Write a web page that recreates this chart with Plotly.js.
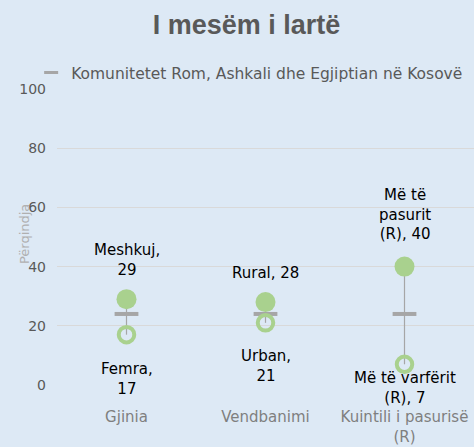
<!DOCTYPE html>
<html>
<head>
<meta charset="utf-8">
<script src="https://cdn.plot.ly/plotly-3.0.1.min.js"></script>
<style>html,body{margin:0;padding:0;background:#dde9f5;}#chart{width:474px;height:447px;}</style>
</head>
<body>
<div id="chart"></div>
<script>
// ---- data ----
const categories = ["Gjinia", "Vendbanimi", "Kuintili i pasurisë<br>(R)"];
const highValues = [29, 28, 40];
const lowValues = [17, 21, 7];
const avgValues = [24, 24, 24];
const highNames = ["Meshkuj,<br>", "Rural, ", "Më të<br>pasurit<br>(R), "];
const lowNames = ["Femra,<br>", "Urban,<br>", "Më të varfërit<br>(R), "];
const legendName = "Komunitetet Rom, Ashkali dhe Egjiptian në Kosovë";

// ---- styling ----
const green = "#a9d18e";
const grey = "#a6a6a6";
const fontFam = "DejaVu Sans, Verdana, sans-serif";
const highShift = [18, 18, 22];
const lowShift = [-23, -22, -3];

const rangeX = [], rangeY = [];
categories.forEach((c, i) => { rangeX.push(c, c, null); rangeY.push(lowValues[i], highValues[i], null); });

const traces = [
  {x: rangeX, y: rangeY, mode: "lines", line: {color: grey, width: 1.2}, showlegend: false, hoverinfo: "skip"},
  {x: categories, y: avgValues, mode: "markers", name: legendName, showlegend: false,
   marker: {symbol: "line-ew", size: 17, color: grey, line: {color: grey, width: 4}}},
  {x: categories, y: highValues, mode: "markers", showlegend: false,
   marker: {symbol: "circle", size: 20, color: green}},
  {x: categories, y: lowValues, mode: "markers", showlegend: false,
   marker: {symbol: "circle-open", size: 15.5, color: green, line: {color: green, width: 4}}},
  {x: [null], y: [null], mode: "markers", name: legendName, showlegend: true,
   marker: {symbol: "line-ew", size: 10, color: grey, line: {color: grey, width: 3}}}
];

const annotations = [];
categories.forEach((c, i) => {
  annotations.push({x: c, y: highValues[i], xref: "x", yref: "y", text: highNames[i] + highValues[i],
    showarrow: false, yanchor: "bottom", yshift: highShift[i], font: {size: 15, color: "#000", family: fontFam}});
  annotations.push({x: c, y: lowValues[i], xref: "x", yref: "y", text: lowNames[i] + lowValues[i],
    showarrow: false, yanchor: "top", yshift: lowShift[i], font: {size: 15, color: "#000", family: fontFam}});
});
annotations.push({xref: "paper", yref: "paper", x: -0.079, y: 0.51, text: "Përqindja", textangle: -90,
  showarrow: false, xanchor: "center", yanchor: "middle", font: {size: 13, color: "#b0b0b0", family: fontFam}});

const layout = {
  width: 474, height: 447,
  paper_bgcolor: "#dde9f5", plot_bgcolor: "#dde9f5",
  margin: {l: 57, r: 0, t: 89, b: 62},
  font: {family: fontFam, color: "#595959"},
  title: {text: "<b>I mesëm i lartë</b>", x: 0.52, xanchor: "center", y: 0.945, yanchor: "middle",
    font: {size: 27, color: "#595959", family: "Liberation Sans, Arial, sans-serif"}},
  showlegend: true,
  legend: {x: -0.062, xanchor: "left", y: 1.054, yanchor: "middle", orientation: "h",
    bgcolor: "rgba(0,0,0,0)", font: {size: 15.5, color: "#595959", family: fontFam}, itemwidth: 30},
  xaxis: {type: "category", range: [-0.5, 2.5], showgrid: false, zeroline: false, showline: false,
    ticks: "", tickfont: {size: 15, color: "#7f7f7f", family: fontFam}, ticklabelstandoff: 21, fixedrange: true},
  yaxis: {range: [0, 100], dtick: 20, showgrid: true, gridcolor: "#d9d9d9", gridwidth: 1.3, zeroline: false,
    showline: false, ticks: "", tickfont: {size: 14, color: "#595959", family: fontFam}, ticklabelstandoff: 10,
    fixedrange: true},
  annotations: annotations
};

Plotly.newPlot("chart", traces, layout, {displayModeBar: false, staticPlot: true});
</script>
</body>
</html>
